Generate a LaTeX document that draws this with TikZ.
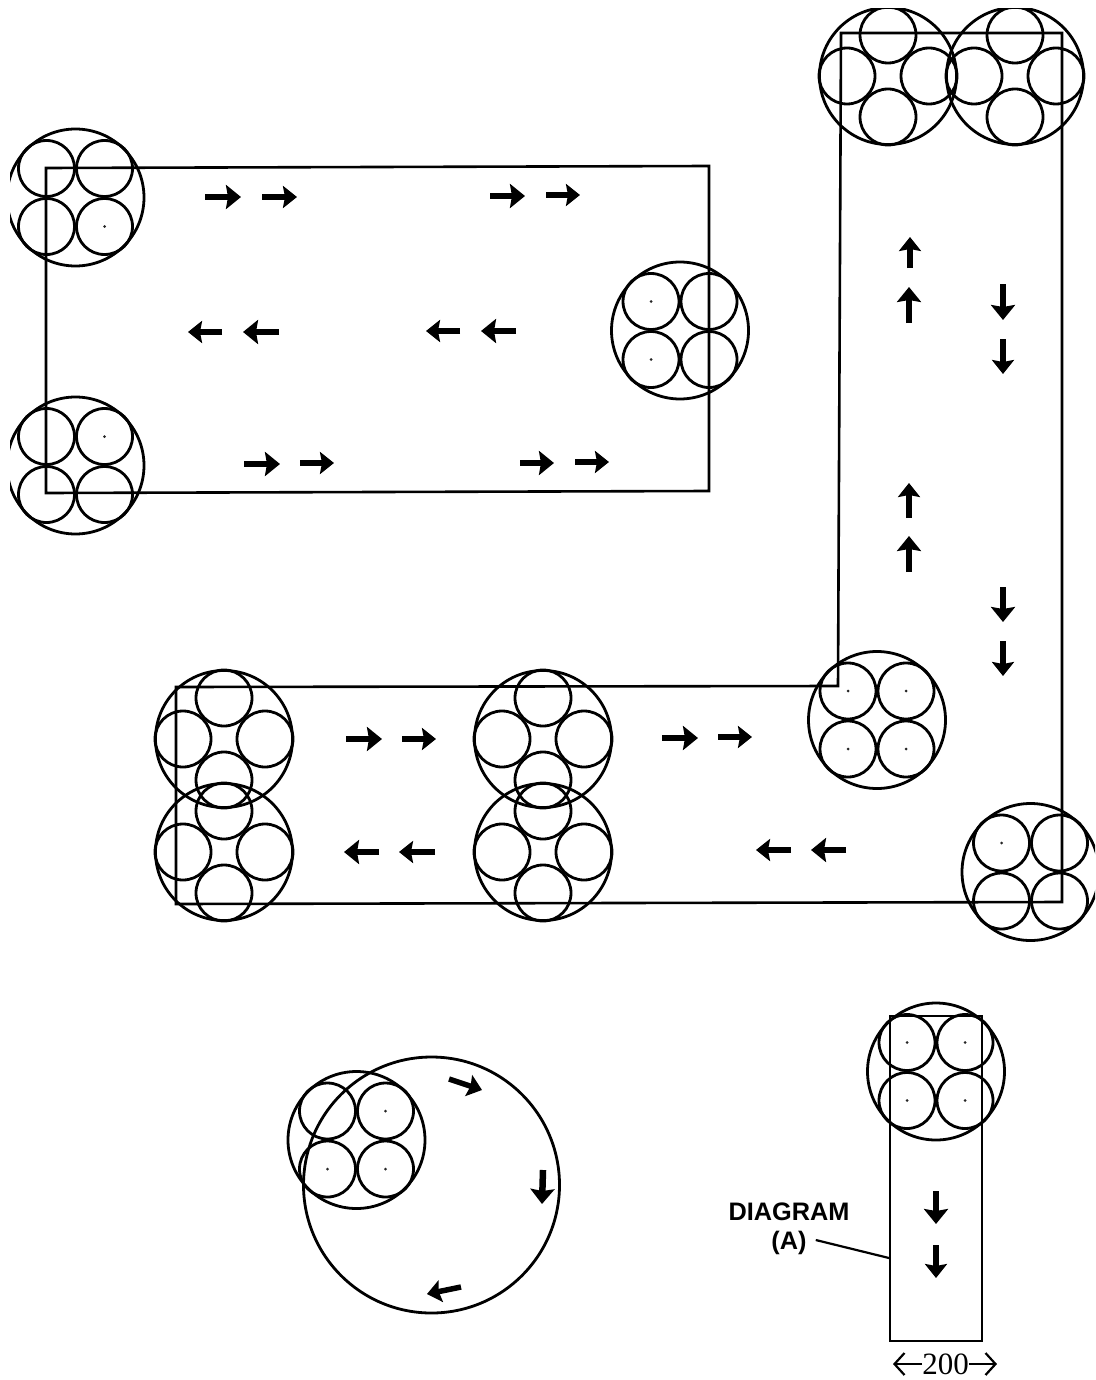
\documentclass[tikz,border=0pt]{standalone}
\usepackage{fontspec}
\setmainfont{Liberation Serif}
\newfontfamily\labelfont{Liberation Sans}
\usetikzlibrary{arrows.meta,positioning}
\tikzset{
  bigwheel/.style={circle, draw=black, line width=2.8pt, minimum size=137pt, inner sep=0pt, outer sep=0pt},
  smallwheel/.style={circle, draw=black, line width=2.8pt, minimum size=56pt, inner sep=0pt, outer sep=0pt},
  hubdot/.style={circle, fill=black!85, minimum size=3pt, inner sep=0pt, outer sep=0pt},
  pathline/.style={draw=black, line width=2.6pt, line join=miter},
  fatarrow/.style={-{Stealth[length=15pt,width=24pt,inset=2pt]}, line width=6.5pt},
  thinarrow/.style={-{Stealth[length=14pt,width=22pt,inset=2pt]}, line width=5.5pt},
  dimarrow/.style={-{Straight Barb[length=10pt,width=22pt]}, line width=2.2pt},
  squarewheels/.pic={
    \node[bigwheel] (-big) at (0,0) {};
    \node[smallwheel] (-a) at (-29,-29) {};
    \node[smallwheel] (-b) at (29,-29) {};
    \node[smallwheel] (-c) at (-29,29) {};
    \node[smallwheel] (-d) at (29,29) {};
  },
  pluswheels/.pic={
    \node[bigwheel] (-big) at (0,0) {};
    \node[smallwheel] (-a) at (0,-41) {};
    \node[smallwheel] (-b) at (41,0) {};
    \node[smallwheel] (-c) at (0,41) {};
    \node[smallwheel] (-d) at (-41,0) {};
  }
}

\begin{document}
\begin{tikzpicture}[x=1pt, y=-1pt]
  \useasboundingbox (0,0) rectangle (1095,1380);
  \clip (10,9) rectangle (1095,1380);

  % paths
  \draw[pathline] (46,168) -- (709,166) -- (709,491) -- (46,493) -- cycle;
  \draw[pathline] (841,33) -- (1062,33) -- (1062,902) -- (176,904) -- (176,687) -- (838,686) -- cycle;
  \draw[pathline] (890,1016) -- (982,1016) -- (982,1341) -- (890,1341) -- cycle;
  \node[bigwheel, minimum size=256pt] (track) at (431.5,1185) {};

  % wheels
  \pic (w1) at (75.5,197.5) {squarewheels};
  \pic (w2) at (75.5,465.5) {squarewheels};
  \pic (w3) at (680,330.5) {squarewheels};
  \pic (w4) at (877,720) {squarewheels};
  \pic (w5) at (1030.5,872) {squarewheels};
  \pic (w6) at (936,1071.5) {squarewheels};
  \pic (w7) at (356.5,1140) {squarewheels};
  \pic (w8) at (888,76) {pluswheels};
  \pic (w9) at (1015,76) {pluswheels};
  \pic (w10) at (224,739) {pluswheels};
  \pic (w11) at (224,852) {pluswheels};
  \pic (w12) at (543,739) {pluswheels};
  \pic (w13) at (543,852) {pluswheels};

  % hub dots
  \node[hubdot] (d1) at (w1-d) {};
  \node[hubdot] (d2) at (w2-b) {};
  \node[hubdot] (d3) at (w3-a) {};
  \node[hubdot] (d4) at (w3-c) {};
  \node[hubdot] (d5) at (w4-a) {};
  \node[hubdot] (d6) at (w4-b) {};
  \node[hubdot] (d7) at (w4-c) {};
  \node[hubdot] (d8) at (w4-d) {};
  \node[hubdot] (d9) at (w5-a) {};
  \node[hubdot] (d10) at (w6-a) {};
  \node[hubdot] (d11) at (w6-b) {};
  \node[hubdot] (d12) at (w6-c) {};
  \node[hubdot] (d13) at (w6-d) {};
  \node[hubdot] (d14) at (w7-b) {};
  \node[hubdot] (d15) at (w7-c) {};
  \node[hubdot] (d16) at (w7-d) {};

  % arrows
  \draw[fatarrow] (205,197) -- (241,197);
  \draw[thinarrow] (262,197) -- (297,197);
  \draw[fatarrow] (490,196) -- (525,196);
  \draw[thinarrow] (546,195) -- (580,195);
  \draw[thinarrow] (222,332) -- (188,332);
  \draw[fatarrow] (279,332) -- (243,332);
  \draw[thinarrow] (460,331) -- (426,331);
  \draw[fatarrow] (516,331) -- (481,331);
  \draw[fatarrow] (244,464) -- (280,464);
  \draw[thinarrow] (300,463) -- (334,463);
  \draw[fatarrow] (520,463) -- (554,463);
  \draw[thinarrow] (575,462) -- (609,462);
  \draw[thinarrow] (910,268) -- (910,237);
  \draw[fatarrow] (909,323) -- (909,287);
  \draw[thinarrow] (909,518) -- (909,483);
  \draw[fatarrow] (909,572) -- (909,536);
  \draw[fatarrow] (1003,284) -- (1003,320);
  \draw[thinarrow] (1003,339) -- (1003,374);
  \draw[fatarrow] (1003,587) -- (1003,622);
  \draw[thinarrow] (1003,641) -- (1003,676);
  \draw[fatarrow] (346,739) -- (382,739);
  \draw[thinarrow] (402,739) -- (436,739);
  \draw[fatarrow] (662,738) -- (698,738);
  \draw[thinarrow] (718,737) -- (752,737);
  \draw[fatarrow] (379,852) -- (344,852);
  \draw[thinarrow] (435,852) -- (399,852);
  \draw[thinarrow] (791,850) -- (756,850);
  \draw[fatarrow] (846,850) -- (811,850);
  \draw[fatarrow] (936,1191) -- (936,1224);
  \draw[thinarrow] (936,1245) -- (936,1278);
  \draw[thinarrow] (449,1079) -- (482,1090);
  \draw[fatarrow] (543,1170) -- (542,1204);
  \draw[thinarrow] (461,1287) -- (427,1294);

  % labels
  \node[font=\labelfont\bfseries\fontsize{25.3}{25.3}\selectfont, inner sep=0pt] (diagram) at (789,1212) {DIAGRAM};
  \node[font=\labelfont\bfseries\fontsize{25.3}{25.3}\selectfont, inner sep=0pt] (lblA) at (789,1243) {(A)};
  \coordinate (rectA) at (889,1258);
  \draw[line width=2.2pt] ([xshift=9pt,yshift=3pt]lblA.east) -- (rectA);
  \node[font=\fontsize{31}{31}\selectfont, inner sep=0pt] (width) at (945.5,1364) {200};
  \coordinate (dimL) at (893,1364);
  \coordinate (dimR) at (997,1364);
  \draw[dimarrow] (width.west) -- (dimL);
  \draw[dimarrow] (width.east) -- (dimR);
\end{tikzpicture}
\end{document}
